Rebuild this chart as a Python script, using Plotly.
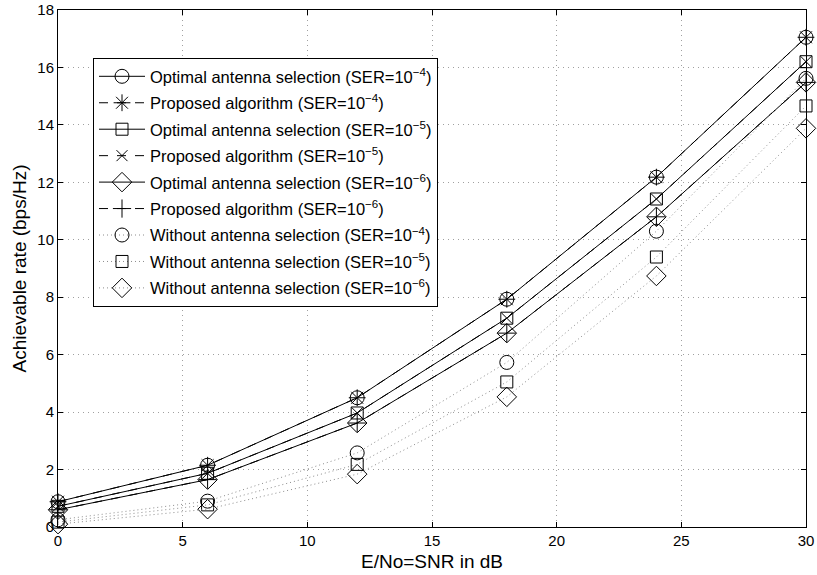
import plotly.graph_objects as go

snr_db = [0, 6, 12, 18, 24, 30]

opt_1e4 = [0.88, 2.15, 4.50, 7.93, 12.18, 17.05]
prop_1e4 = [0.88, 2.15, 4.50, 7.93, 12.18, 17.05]
opt_1e5 = [0.72, 1.87, 3.97, 7.27, 11.42, 16.20]
prop_1e5 = [0.72, 1.87, 3.97, 7.27, 11.42, 16.20]
opt_1e6 = [0.60, 1.65, 3.62, 6.75, 10.80, 15.48]
prop_1e6 = [0.60, 1.65, 3.62, 6.75, 10.80, 15.48]
wo_1e4 = [0.25, 0.90, 2.58, 5.73, 10.30, 15.62]
wo_1e5 = [0.17, 0.77, 2.18, 5.05, 9.40, 14.66]
wo_1e6 = [0.10, 0.62, 1.84, 4.53, 8.74, 13.88]

series = [
    ("Optimal antenna selection (SER=10<sup>−4</sup>)", opt_1e4, "circle-open", "solid", 14),
    ("Proposed algorithm (SER=10<sup>−4</sup>)", prop_1e4, "asterisk-open", "dash", 14),
    ("Optimal antenna selection (SER=10<sup>−5</sup>)", opt_1e5, "square-open", "solid", 12),
    ("Proposed algorithm (SER=10<sup>−5</sup>)", prop_1e5, "x-thin-open", "dash", 11),
    ("Optimal antenna selection (SER=10<sup>−6</sup>)", opt_1e6, "diamond-open", "solid", 15),
    ("Proposed algorithm (SER=10<sup>−6</sup>)", prop_1e6, "cross-thin-open", "dash", 13),
    ("Without antenna selection (SER=10<sup>−4</sup>)", wo_1e4, "circle-open", "1px,3px", 14),
    ("Without antenna selection (SER=10<sup>−5</sup>)", wo_1e5, "square-open", "1px,3px", 12),
    ("Without antenna selection (SER=10<sup>−6</sup>)", wo_1e6, "diamond-open", "1px,3px", 15),
]

fig = go.Figure()
for i, (name, ys, sym, dash, size) in enumerate(series):
    lc = "#8c8c8c" if dash == "1px,3px" else "black"
    fig.add_trace(go.Scatter(
        x=snr_db, y=ys, name=name, mode="lines+markers",
        legendgroup=f"g{i}",
        line=dict(color=lc, width=1, dash=dash),
        marker=dict(symbol=sym, size=size, color="black", line=dict(color="black", width=1)),
        cliponaxis=False,
    ))

axis_common = dict(
    showline=True, linecolor="black", linewidth=1, mirror="allticks",
    ticks="inside", ticklen=5, tickcolor="black",
    showgrid=True, gridcolor="#a0a0a0", griddash="1px,4px", gridwidth=1,
    zeroline=False, tickfont=dict(size=15, color="black"), automargin=False,
)

fig.update_layout(
    width=817, height=575,
    margin=dict(l=58, r=11, t=10, b=48),
    paper_bgcolor="white", plot_bgcolor="white",
    font=dict(family="Liberation Sans, Arial, sans-serif", color="black", size=16),
    xaxis=dict(range=[0, 30], dtick=5,
               title=dict(text="E/No=SNR in dB", font=dict(size=19), standoff=6),
               **axis_common),
    yaxis=dict(range=[0, 18], dtick=2,
               title=dict(text="Achievable rate (bps/Hz)", font=dict(size=19), standoff=5),
               **axis_common),
    legend=dict(x=0.0468, y=0.907, xanchor="left", yanchor="top",
                bgcolor="white", bordercolor="black", borderwidth=1,
                font=dict(size=16.5), tracegroupgap=2, itemwidth=46),
    showlegend=True,
)

fig.write_html("out.html", config={"displayModeBar": False},
               post_script="document.body.style.margin='0';document.body.style.overflow='hidden';")
